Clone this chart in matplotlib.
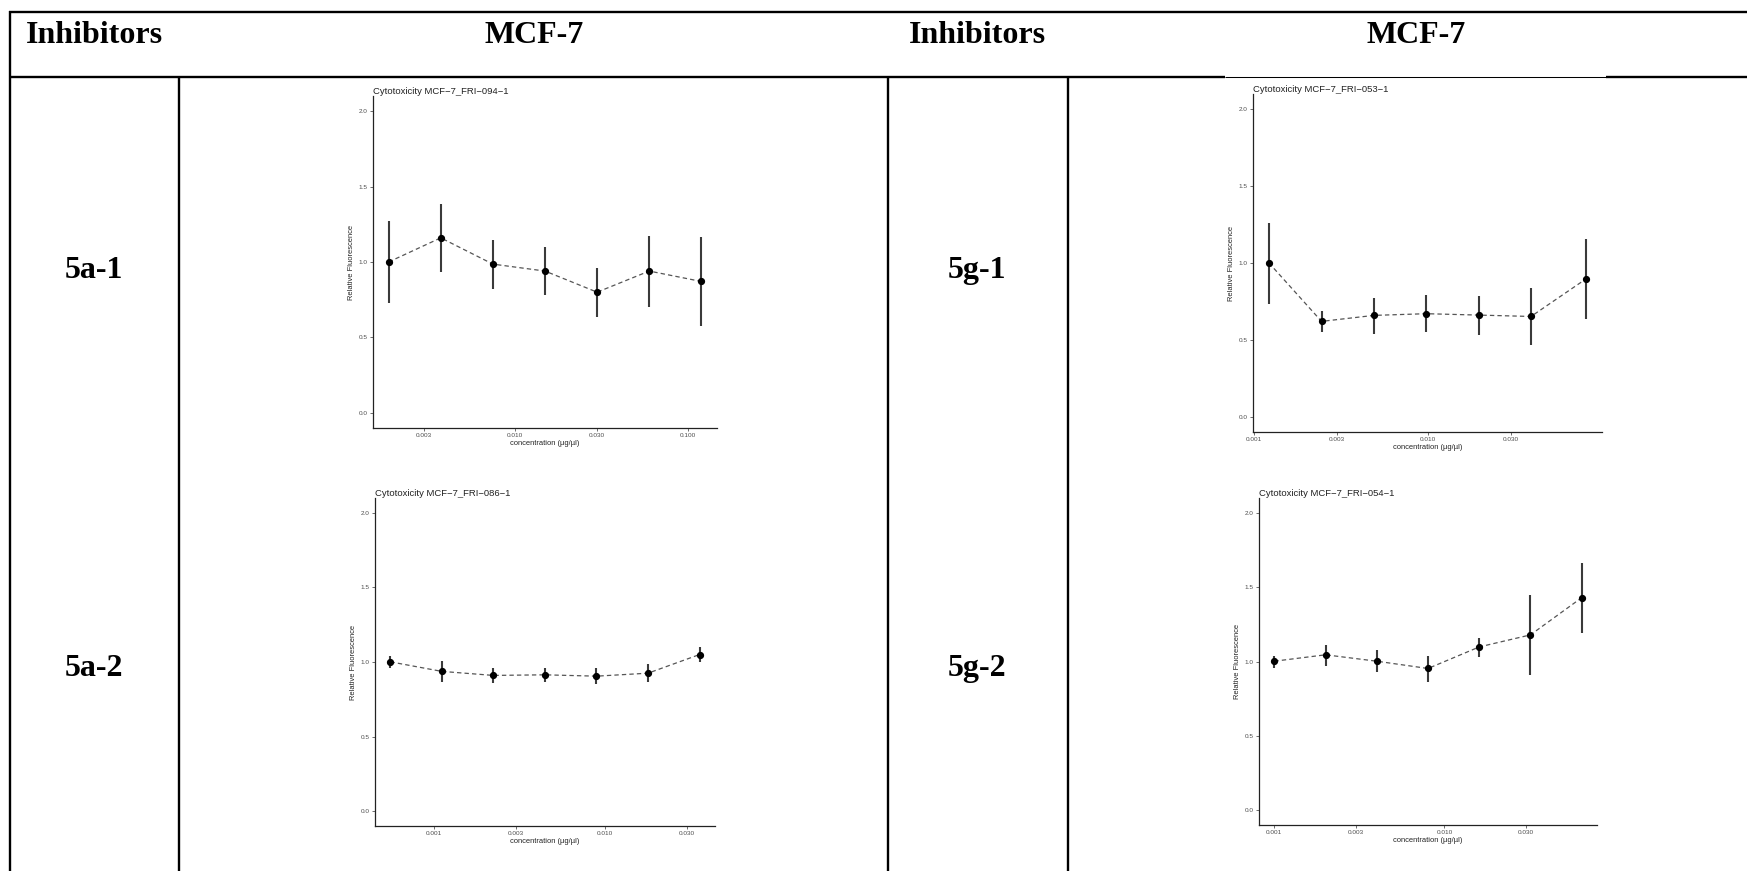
import numpy as np
import matplotlib
matplotlib.use("Agg")
import matplotlib.pyplot as plt
from matplotlib.lines import Line2D
from matplotlib.ticker import FixedLocator, FixedFormatter, NullLocator

W, H = 1747, 871
DPI = 100

# ---------------- data ----------------
header_labels = ["Inhibitors", "MCF-7", "Inhibitors", "MCF-7"]
row_labels = ["5a-1", "5a-2", "5g-1", "5g-2"]
titles = ["Cytotoxicity MCF\u22127_FRI\u2212094\u22121",
          "Cytotoxicity MCF\u22127_FRI\u2212086\u22121",
          "Cytotoxicity MCF\u22127_FRI\u2212053\u22121",
          "Cytotoxicity MCF\u22127_FRI\u2212054\u22121"]

conc_094 = [0.001875, 0.00375, 0.0075, 0.015, 0.03, 0.06, 0.12]
mean_094 = [1.00, 1.16, 0.986, 0.94, 0.80, 0.94, 0.871]
low_094 = [0.726, 0.935, 0.82, 0.78, 0.634, 0.70, 0.576]
high_094 = [1.27, 1.386, 1.148, 1.098, 0.961, 1.173, 1.164]

conc_086 = [0.000556, 0.00111, 0.00222, 0.00444, 0.00889, 0.0178, 0.0356]
mean_086 = [1.001, 0.937, 0.91, 0.914, 0.905, 0.925, 1.05]
low_086 = [0.957, 0.865, 0.861, 0.863, 0.854, 0.865, 0.997]
high_086 = [1.043, 1.01, 0.959, 0.963, 0.957, 0.986, 1.101]

conc_053 = [0.00122, 0.00245, 0.0049, 0.0098, 0.0196, 0.0392, 0.0813]
mean_053 = [1.001, 0.62, 0.659, 0.67, 0.661, 0.652, 0.897]
low_053 = [0.735, 0.548, 0.54, 0.55, 0.531, 0.468, 0.633]
high_053 = [1.261, 0.687, 0.774, 0.791, 0.787, 0.836, 1.159]

conc_054 = [0.001, 0.002, 0.004, 0.008, 0.016, 0.032, 0.064]
mean_054 = [1.002, 1.045, 1.002, 0.953, 1.098, 1.179, 1.429]
low_054 = [0.958, 0.971, 0.929, 0.862, 1.033, 0.911, 1.192]
high_054 = [1.04, 1.114, 1.076, 1.04, 1.161, 1.449, 1.663]

x_ticks = [0.001, 0.003, 0.010, 0.030, 0.100]
x_ticklabels = ["0.001", "0.003", "0.010", "0.030", "0.100"]
y_ticks = [0.0, 0.5, 1.0, 1.5, 2.0]
y_ticklabels = ["0.0", "0.5", "1.0", "1.5", "2.0"]

# ---------------- layout helpers ----------------
fig = plt.figure(figsize=(W / DPI, H / DPI), dpi=DPI)
fig.patch.set_facecolor("white")

def fx(x):
    return x / W

def fy(y):
    return 1 - y / H

def hline(y, x0, x1, lw=1.7):
    fig.add_artist(Line2D([fx(x0), fx(x1)], [fy(y), fy(y)], color="black",
                          lw=lw, solid_capstyle="butt", transform=fig.transFigure))

def vline(x, y0, y1, lw=1.7):
    fig.add_artist(Line2D([fx(x), fx(x)], [fy(y0), fy(y1)], color="black",
                          lw=lw, solid_capstyle="butt", transform=fig.transFigure))

# table grid
hline(12, 9, W)
hline(77, 9, 1225)
hline(77, 1225, 1606, lw=0.75)
hline(77, 1606, W)
vline(10, 11, H)
vline(179, 77, H)
vline(888, 77, H)
vline(1068, 77, H)

serif = ["Liberation Serif", "DejaVu Serif"]
header_x = [94, 534, 977, 1416]
for lab, x in zip(header_labels, header_x):
    fig.text(fx(x), fy(43), lab, ha="center", va="baseline", fontsize=23,
             fontweight="bold", family=serif)

row_pos = [(94, 278), (94, 676), (977, 278), (977, 676)]
for lab, (x, y) in zip(row_labels, row_pos):
    fig.text(fx(x), fy(y), lab, ha="center", va="baseline", fontsize=23,
             fontweight="bold", family=serif)

# ---------------- plots ----------------
panels = [
    ((373, 717, 96, 428), titles[0], conc_094, mean_094, low_094, high_094),
    ((375, 715, 498, 826), titles[1], conc_086, mean_086, low_086, high_086),
    ((1253, 1602, 94, 432), titles[2], conc_053, mean_053, low_053, high_053),
    ((1259, 1597, 498, 825), titles[3], conc_054, mean_054, low_054, high_054),
]

sans = ["Liberation Sans", "DejaVu Sans"]
for (l, r, t, b), title, conc, mean, low, high in panels:
    ax = fig.add_axes([fx(l), fy(b), (r - l) / W, (b - t) / H])
    conc = np.array(conc)
    mean = np.array(mean)
    low = np.array(low)
    high = np.array(high)
    ax.vlines(conc, low, high, color="#3a3a3a", lw=1.5, zorder=2)
    ax.plot(conc, mean, color="#555555", lw=0.9, ls=(0, (3.5, 2.5)), zorder=3)
    ax.plot(conc, mean, "o", color="black", ms=4.2, zorder=4)
    ax.set_xscale("log")
    lc = np.log10(conc)
    span = lc.max() - lc.min()
    ax.set_xlim(10 ** (lc.min() - 0.05 * span), 10 ** (lc.max() + 0.05 * span))
    ax.set_ylim(-0.1, 2.1)
    lo, hi = ax.get_xlim()
    keep = [(v, s) for v, s in zip(x_ticks, x_ticklabels)
            if lo * 0.99 <= v <= hi * 0.97]
    ax.xaxis.set_major_locator(FixedLocator([v for v, _ in keep]))
    ax.xaxis.set_major_formatter(FixedFormatter([s for _, s in keep]))
    ax.xaxis.set_minor_locator(NullLocator())
    ax.set_yticks(y_ticks)
    ax.set_yticklabels(y_ticklabels)
    for sp in ["top", "right"]:
        ax.spines[sp].set_visible(False)
    for sp in ["left", "bottom"]:
        ax.spines[sp].set_linewidth(0.9)
        ax.spines[sp].set_color("#222222")
    ax.tick_params(axis="both", length=2.2, width=0.5, color="#333333",
                   labelsize=4.6, labelcolor="#4d4d4d", pad=1.5)
    for lbl in ax.get_xticklabels() + ax.get_yticklabels():
        lbl.set_family(sans)
    ax.set_xlabel("concentration (\u00b5g/\u00b5l)", fontsize=5.4, family=sans,
                  labelpad=1.2, color="#222222")
    ax.set_ylabel("Relative Fluorescence", fontsize=5.4, family=sans,
                  labelpad=2.5, color="#222222")
    ax.text(0, 1.0, title, transform=ax.transAxes, ha="left", va="bottom",
            fontsize=6.8, family=sans, color="#222222")
    ax.patch.set_alpha(0)

fig.savefig("out.png", dpi=DPI, facecolor="white")
